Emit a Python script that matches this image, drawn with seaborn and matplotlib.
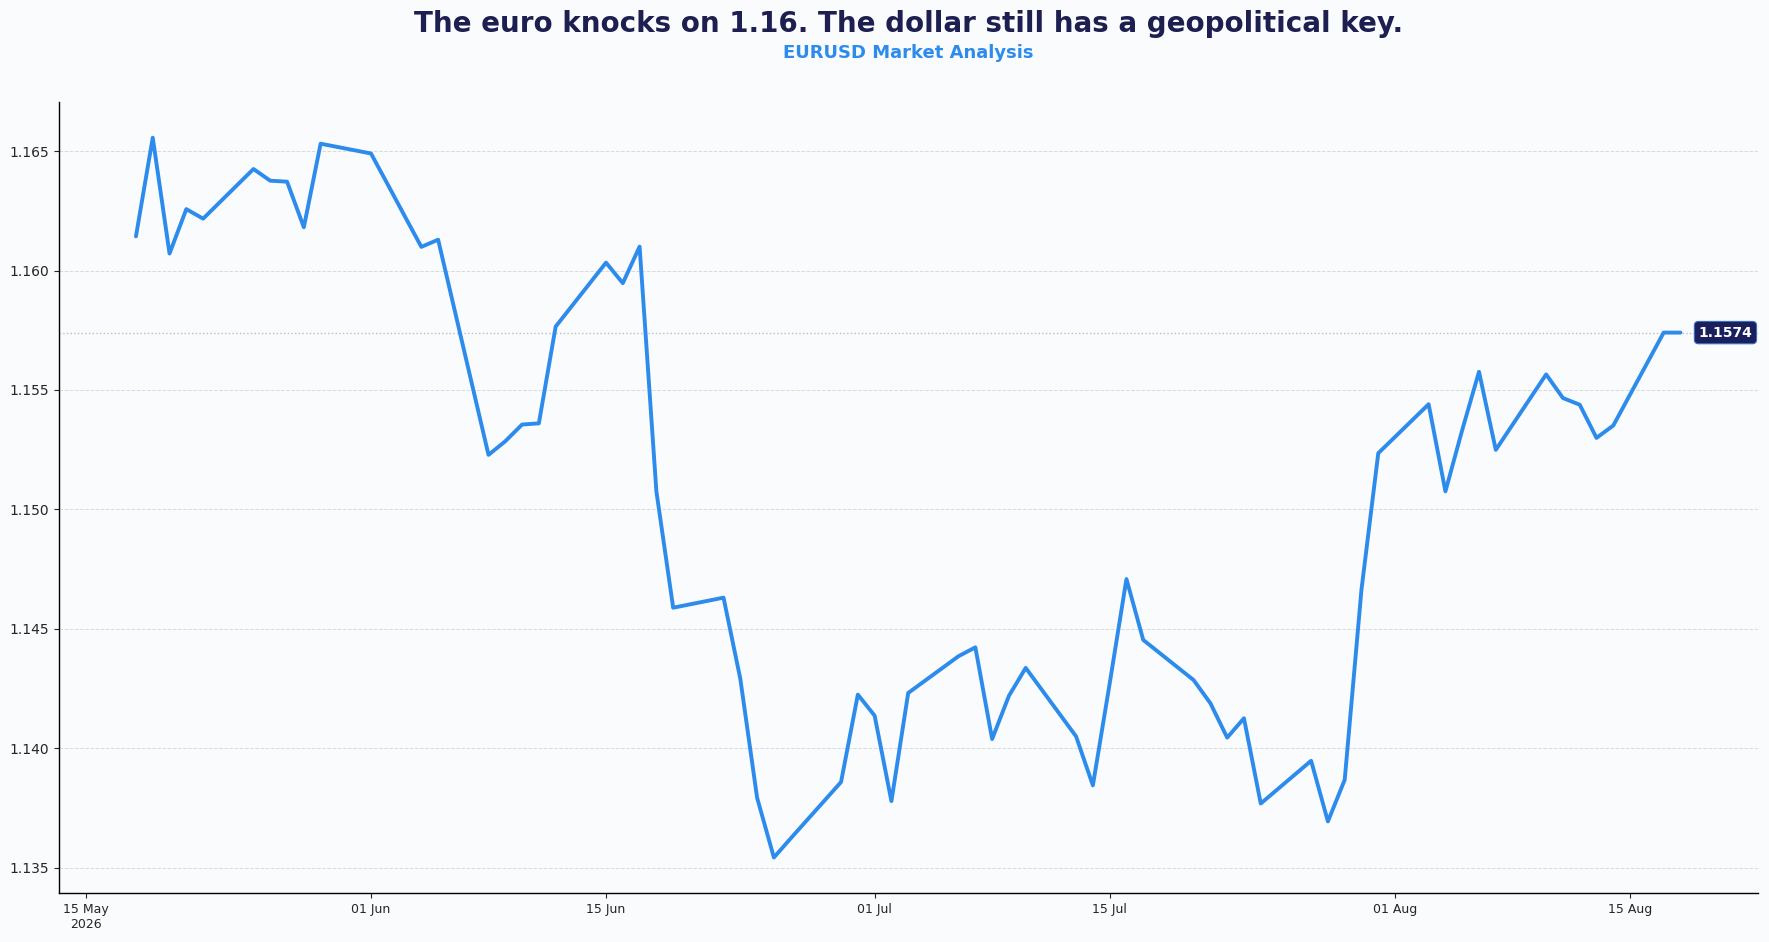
import numpy as np
import pandas as pd
import matplotlib
matplotlib.use("Agg")
import matplotlib.pyplot as plt
import matplotlib.dates as mdates
import matplotlib.ticker as mticker
import seaborn as sns

# ---- data ---------------------------------------------------------------
dates = [
    "2026-05-18", "2026-05-19", "2026-05-20", "2026-05-21", "2026-05-22",
    "2026-05-25", "2026-05-26", "2026-05-27", "2026-05-28", "2026-05-29",
    "2026-06-01", "2026-06-02", "2026-06-03", "2026-06-04", "2026-06-05",
    "2026-06-08", "2026-06-09", "2026-06-10", "2026-06-11", "2026-06-12",
    "2026-06-15", "2026-06-16", "2026-06-17", "2026-06-18", "2026-06-19",
    "2026-06-22", "2026-06-23", "2026-06-24", "2026-06-25", "2026-06-26",
    "2026-06-29", "2026-06-30", "2026-07-01", "2026-07-02", "2026-07-03",
    "2026-07-06", "2026-07-07", "2026-07-08", "2026-07-09", "2026-07-10",
    "2026-07-13", "2026-07-14", "2026-07-15", "2026-07-16", "2026-07-17",
    "2026-07-20", "2026-07-21", "2026-07-22", "2026-07-23", "2026-07-24",
    "2026-07-27", "2026-07-28", "2026-07-29", "2026-07-30", "2026-07-31",
    "2026-08-03", "2026-08-04", "2026-08-05", "2026-08-06", "2026-08-07",
    "2026-08-10", "2026-08-11", "2026-08-12", "2026-08-13", "2026-08-14",
    "2026-08-17", "2026-08-18",
]
eurusd = [
    1.16143, 1.16556, 1.16071, 1.16257, 1.16217,
    1.16425, 1.16376, 1.16372, 1.16181, 1.16531,
    1.16490, 1.16360, 1.16229, 1.16099, 1.16129,
    1.15228, 1.15285, 1.15355, 1.15360, 1.15765,
    1.16033, 1.15947, 1.16100, 1.15075, 1.14588,
    1.14630, 1.14290, 1.13792, 1.13542, 1.13622,
    1.13858, 1.14224, 1.14136, 1.13778, 1.14231,
    1.14385, 1.14422, 1.14038, 1.14219, 1.14336,
    1.14049, 1.13844, 1.14270, 1.14708, 1.14453,
    1.14285, 1.14188, 1.14044, 1.14125, 1.13768,
    1.13947, 1.13693, 1.13867, 1.14664, 1.15235,
    1.15440, 1.15075, 1.15332, 1.15576, 1.15249,
    1.15565, 1.15466, 1.15438, 1.15299, 1.15351,
    1.15740, 1.15740,
]
last_price = 1.1574

TITLE = "The euro knocks on 1.16. The dollar still has a geopolitical key."
SUBTITLE = "EURUSD Market Analysis"

LINE_COLOR = "#2d8ceb"
NAVY = "#1c1f4f"
BG = "#fafbfd"

df = pd.DataFrame({"date": pd.to_datetime(dates), "price": eurusd})

# ---- plot ---------------------------------------------------------------
sns.set_style("ticks")
plt.rcParams["font.family"] = ["DejaVu Sans"]

fig = plt.figure(figsize=(17.69, 9.42), dpi=100, facecolor=BG)
ax = fig.add_axes([0.0332, 0.0515, 0.9604, 0.8405])
ax.set_facecolor(BG)

sns.lineplot(data=df, x="date", y="price", color=LINE_COLOR, linewidth=2.8, ax=ax)

# last price reference line + label
ax.axhline(last_price, color="#b8bec8", linestyle=":", linewidth=1.0, zorder=1)
ax.annotate(f"{last_price:.4f}", xy=(df["date"].iloc[-1], last_price),
            xytext=(13, 0), textcoords="offset points", ha="left", va="center",
            fontsize=10, fontweight="bold", color="white",
            bbox=dict(boxstyle="round,pad=0.3", fc="#1a1f5e", ec="#3a6fc0", lw=0.8))

ax.yaxis.grid(True, linestyle="--", color="#d5dae1", linewidth=0.7)
ax.xaxis.grid(False)
ax.set_axisbelow(True)

ax.xaxis.set_major_locator(mdates.DayLocator(bymonthday=[1, 15]))


def fmt_date(x, pos):
    d = mdates.num2date(x)
    if pos == 0:
        return d.strftime("%d %b\n%Y")
    return d.strftime("%d %b")


ax.xaxis.set_major_formatter(mticker.FuncFormatter(fmt_date))
ax.yaxis.set_major_locator(mticker.MultipleLocator(0.005))
ax.yaxis.set_major_formatter(mticker.FormatStrFormatter("%.3f"))
ax.tick_params(axis="x", labelsize=9)
ax.tick_params(axis="y", labelsize=10)
ax.set_xlabel("")
ax.set_ylabel("")

sns.despine(ax=ax)
for side in ["left", "bottom"]:
    ax.spines[side].set_color("black")
    ax.spines[side].set_linewidth(1.0)

x_mid = 0.0332 + 0.9604 / 2
fig.text(x_mid, 0.966, TITLE, ha="center", va="baseline",
         fontsize=20, fontweight="bold", color=NAVY)
fig.text(x_mid, 0.938, SUBTITLE, ha="center", va="baseline",
         fontsize=13, fontweight="bold", color=LINE_COLOR)

fig.savefig("out.png", dpi=100, facecolor=BG)
plt.close(fig)
